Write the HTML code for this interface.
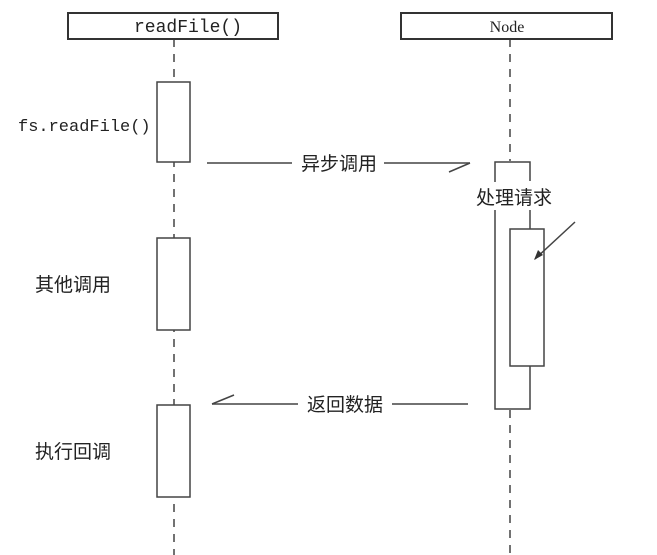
<!DOCTYPE html>
<html><head><meta charset="utf-8"><style>
html,body{margin:0;padding:0;background:#fff;width:657px;height:555px;overflow:hidden}
svg{display:block}
text{font-family:"Liberation Sans","Noto Sans CJK SC",sans-serif;fill:#222}
</style></head><body>
<svg width="657" height="555" viewBox="0 0 657 555" xmlns="http://www.w3.org/2000/svg">
<g stroke="#444" stroke-width="1.5" fill="none">
  <line x1="174" y1="39" x2="174" y2="555" stroke-dasharray="8,7"/>
  <line x1="510" y1="39" x2="510" y2="161" stroke-dasharray="8,7"/>
  <line x1="510" y1="410" x2="510" y2="555" stroke-dasharray="8,7"/>
  <rect x="68" y="13" width="210" height="26" fill="#fff" stroke="#333" stroke-width="2"/>
  <rect x="401" y="13" width="211" height="26" fill="#fff" stroke="#333" stroke-width="2"/>
  <rect x="157" y="82" width="33" height="80" fill="#fff"/>
  <rect x="157" y="238" width="33" height="92" fill="#fff"/>
  <rect x="157" y="405" width="33" height="92" fill="#fff"/>
  <polyline points="495,182 495,162 530,162 530,181"/>
  <polyline points="495,210 495,409 530,409 530,366"/>
  <line x1="530" y1="210" x2="530" y2="229"/>
  <rect x="510" y="229" width="34" height="137" fill="#fff"/>
  <line x1="207" y1="163" x2="292" y2="163"/>
  <line x1="384" y1="163" x2="470" y2="163"/>
  <line x1="470" y1="163" x2="449" y2="172"/>
  <line x1="468" y1="404" x2="392" y2="404"/>
  <line x1="298" y1="404" x2="212" y2="404"/>
  <line x1="212" y1="404" x2="234" y2="395"/>
  <line x1="575" y1="222" x2="535" y2="259"/>
</g>
<polygon points="534,260 538,250 543,255" fill="#333"/>
<text x="188" y="32" font-size="18" text-anchor="middle" style="font-family:'Liberation Mono',monospace">readFile()</text>
<text x="507" y="32" font-size="16" text-anchor="middle" style="font-family:'Liberation Serif',serif">Node</text>
<text x="18" y="131" font-size="17" style="font-family:'Liberation Mono',monospace">fs.readFile()</text>
<text x="339" y="170" font-size="19" text-anchor="middle">异步调用</text>
<text x="514" y="204" font-size="19" text-anchor="middle">处理请求</text>
<text x="345" y="411" font-size="19" text-anchor="middle">返回数据</text>
<text x="35" y="291" font-size="19">其他调用</text>
<text x="35" y="458" font-size="19">执行回调</text>
</svg>
</body></html>
